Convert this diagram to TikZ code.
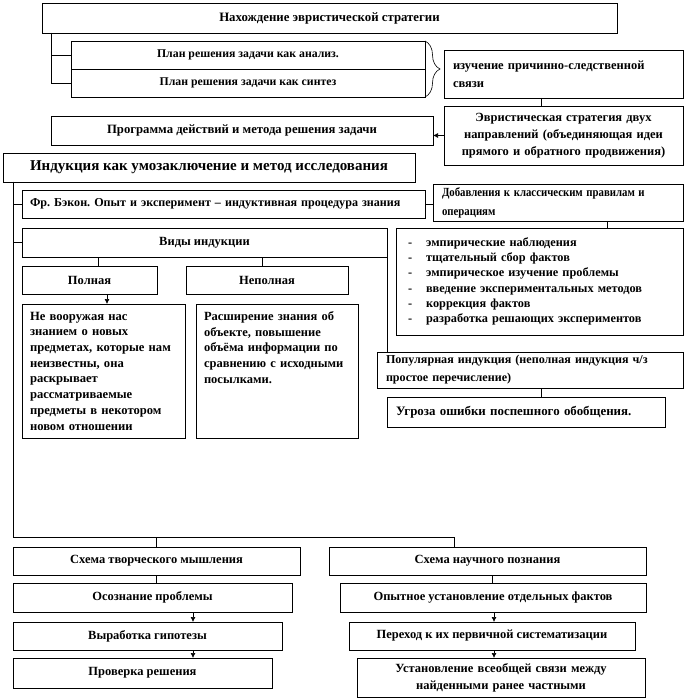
\documentclass[tikz,border=0pt]{standalone}
\usepackage{fontspec}
\setmainfont{Liberation Serif}
\frenchspacing
\usetikzlibrary{arrows.meta,decorations.pathreplacing,calc}
\newcommand\mybox[7][]{%
  \pgfmathsetmacro\bw{#5-#3}\pgfmathsetmacro\bh{#6-#4}\pgfmathsetmacro\tw{#5-#3-18}%
  \node[box,minimum width=\bw pt,minimum height=\bh pt,anchor=north west,#1] (#2) at (#3pt,-#4pt) {#7};}
\newcommand\narrow[1]{\scalebox{0.87}[1]{#1}}
\tikzset{
  box/.style={draw,line width=0.7pt,inner sep=0pt,outer sep=0pt,font=\bfseries\fontsize{12.5}{17}\selectfont},
  lft/.style={text width=\tw pt,align=left,inner xsep=9pt},
  ctr/.style={text width=\tw pt,align=center,inner xsep=9pt},
  conn/.style={line width=0.7pt},
  arr/.style={line width=0.7pt,-{Latex[length=5pt,width=5pt]}},
}
\begin{document}
\begin{tikzpicture}
\useasboundingbox (0,0) rectangle (687pt,-700pt);
% top section
\mybox[font=\bfseries\fontsize{12.8}{17}\selectfont]{b1}{42}{3}{617}{33}{Нахождение эвристической стратегии}
\mybox[font=\bfseries\fontsize{11.8}{17}\selectfont]{p2a}{71}{41}{425}{69}{План решения задачи как анализ.}
\mybox[font=\bfseries\fontsize{11.8}{17}\selectfont]{p2b}{71}{69}{425}{97}{План решения задачи как синтез}
\mybox[lft,font=\bfseries\fontsize{12.5}{18}\selectfont]{b3}{444}{50}{683}{98}{изучение причинно-следственной\\связи}
\mybox[ctr]{b4}{444}{106}{683}{165}{Эвристическая стратегия двух\\направлений (объединяющая идеи\\прямого и обратного продвижения)}
\mybox[font=\bfseries\fontsize{12.7}{17}\selectfont]{b5}{51}{116}{433}{145}{Программа действий и метода решения задачи}
\mybox[font=\bfseries\fontsize{15}{18}\selectfont]{b6}{3}{153}{415}{182}{Индукция как умозаключение и метод исследования}
\coordinate (c1) at (51pt,-33pt);
\draw[conn] (c1) |- (p2a.west);
\draw[conn] (c1) |- (p2b.west);
\draw[decorate,decoration={brace,amplitude=15pt},line width=0.6pt] (p2a.north east) -- (p2b.south east);
\coordinate (c3) at (541pt,0);
\draw[conn] (b3.south -| c3) -- (b4.north -| c3);
\draw[arr] (b4.west) -- (b4.west -| b5.east);
% middle section
\mybox[lft,font=\bfseries\fontsize{12.1}{17}\selectfont,inner xsep=8pt,text width=387pt]{b7}{22}{190}{425}{218}{Фр. Бэкон. Опыт и эксперимент – индуктивная процедура знания}
\mybox[lft,font=\bfseries\fontsize{12.4}{19}\selectfont,inner xsep=9pt,text width=232pt]{b9}{433}{184}{683}{221}{\narrow{Добавления к классическим правилам и}\\\narrow{операциям}}
\mybox[lft,font=\bfseries\fontsize{12.3}{15.3}\selectfont,inner xsep=12pt,text width=263pt]{b10}{396}{228}{683}{335}{%
-\hspace{14pt}эмпирические наблюдения\\
-\hspace{14pt}тщательный сбор фактов\\
-\hspace{14pt}эмпирическое изучение проблемы\\
-\hspace{14pt}введение экспериментальных методов\\
-\hspace{14pt}коррекция фактов\\
-\hspace{14pt}разработка решающих экспериментов}
\mybox{b8}{22}{228}{387}{257}{Виды индукции}
\mybox{pl}{22}{266}{157}{294}{Полная}
\mybox{npl}{186}{266}{348}{294}{Неполная}
\mybox[lft,font=\bfseries\fontsize{12.6}{15.7}\selectfont,inner xsep=8pt,text width=147pt]{nv}{22}{304}{185}{438}{Не вооружая нас\\знанием о новых\\предметах, которые нам\\неизвестны, она\\раскрывает\\рассматриваемые\\предметы в некотором\\новом отношении}
\mybox[lft,font=\bfseries\fontsize{12.5}{15.7}\selectfont,inner xsep=8pt,text width=146pt]{rs}{196}{304}{358}{438}{Расширение знания об\\объекте, повышение\\объёма информации по\\сравнению с исходными\\посылками.\\\mbox{}\\\mbox{}\\\mbox{}}
\mybox[lft,font=\bfseries\fontsize{12.1}{18}\selectfont]{pop}{377}{352}{683}{388}{Популярная индукция (неполная индукция ч/з\\простое перечисление)}
\mybox[lft,font=\bfseries\fontsize{12.9}{17}\selectfont]{ug}{387}{397}{665}{427}{Угроза ошибки поспешного обобщения.}
\draw[conn] (b7.east) -- (b7.east -| b9.west);
\coordinate (c9) at (607pt,0);
\draw[conn] (b9.south -| c9) -- (b10.north -| c9);
\coordinate (c8a) at (98pt,0);
\coordinate (c8b) at (262pt,0);
\draw[conn] (b8.south -| c8a) -- (pl.north -| c8a);
\draw[conn] (b8.south -| c8b) -- (npl.north -| c8b);
\coordinate (cpl) at (107pt,0);
\draw[arr] (pl.south -| cpl) -- (nv.north -| cpl);
\draw[conn] (b8.south east) -- (b8.south east |- pop.north);
\draw[conn] (pop.south -| c3) -- (ug.north -| c3);
% bottom section
\mybox{st}{13}{547}{300}{575}{Схема творческого мышления}
\mybox{os}{13}{583}{292}{612}{Осознание проблемы}
\mybox{vg}{13}{622}{282}{650}{Выработка гипотезы}
\mybox{pr}{13}{658}{272}{688}{Проверка решения}
\mybox{sn}{329}{547}{646}{575}{Схема научного познания}
\mybox{op}{340}{583}{646}{612}{Опытное установление отдельных фактов}
\mybox{pe}{349}{622}{635}{650}{Переход к их первичной систематизации}
\mybox[ctr]{us}{357}{658}{645}{697}{Установление всеобщей связи между\\найденными ранее частными}
\coordinate (m) at (13pt,-182pt);
\coordinate (hb) at (13pt,-537pt);
\coordinate (hr) at (454pt,-537pt);
\draw[conn] (m) |- (b7.west);
\draw[conn] (m) |- (b8.west);
\draw[conn] (m) -- (hb) -- (hr) -- (hr |- sn.north);
\coordinate (cs) at (156pt,0);
\draw[conn] (hb -| cs) -- (st.north -| cs);
\draw[conn] (st.south -| cs) -- (os.north -| cs);
\coordinate (ax) at (193pt,0);
\draw[arr] (os.south -| ax) -- (vg.north -| ax);
\draw[arr] (vg.south -| ax) -- (pr.north -| ax);
\coordinate (cn) at (492pt,0);
\draw[conn] (sn.south -| cn) -- (op.north -| cn);
\coordinate (an) at (494pt,0);
\draw[arr] (op.south -| an) -- (pe.north -| an);
\draw[arr] (pe.south -| an) -- (us.north -| an);
\end{tikzpicture}
\end{document}
